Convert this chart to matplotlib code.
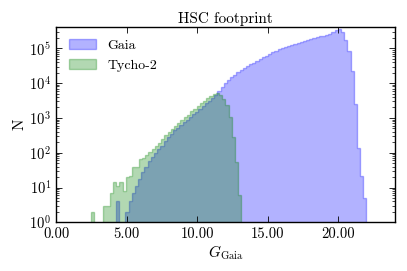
import numpy as np
import matplotlib
matplotlib.use("Agg")
import matplotlib.pyplot as plt
from matplotlib.ticker import FormatStrFormatter

# Histogram data (counts per bin)
gaia_edges_start = 4.245
gaia_bin_width = 0.2244
gaia_counts = [
    4, 0, 0, 2, 4, 7, 11, 18, 28, 40,
    56, 75, 100, 126, 160, 220, 280, 350, 450, 525,
    630, 760, 890, 1070, 1260, 1510, 1860, 2240, 2690, 3160,
    3720, 4470, 6000, 7900, 10000, 12300, 14500, 17000, 20400, 23400,
    27000, 31000, 35000, 39000, 44000, 49000, 55000, 62000, 69000, 76000,
    85000, 93000, 102000, 110000, 118000, 126000, 135000, 145000, 155000, 166000,
    178000, 186000, 200000, 209000, 219000, 229000, 245000, 263000, 295000, 330000,
    350000, 290000, 174000, 83000, 22000, 2500, 140, 22, 5,
]

tycho_edges_start = 2.45
tycho_bin_width = 0.2272
tycho_counts = [
    2, 0, 0, 0, 3, 3, 7, 14, 11, 14,
    8, 20, 22, 38, 40, 65, 72, 85, 105, 125,
    160, 190, 240, 320, 400, 480, 590, 700, 850, 1050,
    1250, 1550, 1850, 2200, 2600, 3100, 3700, 4400, 4900, 5300,
    4500, 3600, 2350, 1050, 290, 55, 6,
]

x_ticks = [0, 5, 10, 15, 20]

plt.rcParams["font.family"] = "cmr10"
plt.rcParams["mathtext.fontset"] = "cm"
plt.rcParams["axes.formatter.use_mathtext"] = True
plt.rcParams["axes.unicode_minus"] = False
plt.rcParams["xtick.direction"] = "in"
plt.rcParams["ytick.direction"] = "in"
plt.rcParams["xtick.top"] = True
plt.rcParams["ytick.right"] = True

gaia_edges = gaia_edges_start + gaia_bin_width * np.arange(len(gaia_counts) + 1)
tycho_edges = tycho_edges_start + tycho_bin_width * np.arange(len(tycho_counts) + 1)
gaia_centers = 0.5 * (gaia_edges[:-1] + gaia_edges[1:])
tycho_centers = 0.5 * (tycho_edges[:-1] + tycho_edges[1:])

fig = plt.figure(figsize=(4.07, 2.71), dpi=100)
ax = fig.add_axes([0.1376, 0.1797, 0.8329, 0.7207])

ax.hist(gaia_centers, bins=gaia_edges, weights=gaia_counts,
        histtype="stepfilled", color="blue", edgecolor="blue", linewidth=1.0,
        alpha=0.3, label="Gaia")
ax.hist(tycho_centers, bins=tycho_edges, weights=tycho_counts,
        histtype="stepfilled", color="green", edgecolor="green", linewidth=1.0,
        alpha=0.3, label="Tycho-2")

ax.set_yscale("log")
ax.set_xlim(0, 24)
ax.set_ylim(1, 4.1e5)
ax.set_xticks(x_ticks)
ax.xaxis.set_major_formatter(FormatStrFormatter("%.2f"))
ax.tick_params(which="major", length=4, width=0.6, labelsize=10.5)
ax.tick_params(which="minor", length=2, width=0.5)
for s in ax.spines.values():
    s.set_linewidth(1.0)

ax.set_title("HSC footprint", fontsize=11, pad=3)
ax.set_xlabel(r"$G_{\rm Gaia}$", fontsize=11, labelpad=2)
ax.set_ylabel("N", fontsize=11, labelpad=2)
ax.legend(loc="upper left", frameon=False, fontsize=10)

fig.savefig("out.png", dpi=100)
